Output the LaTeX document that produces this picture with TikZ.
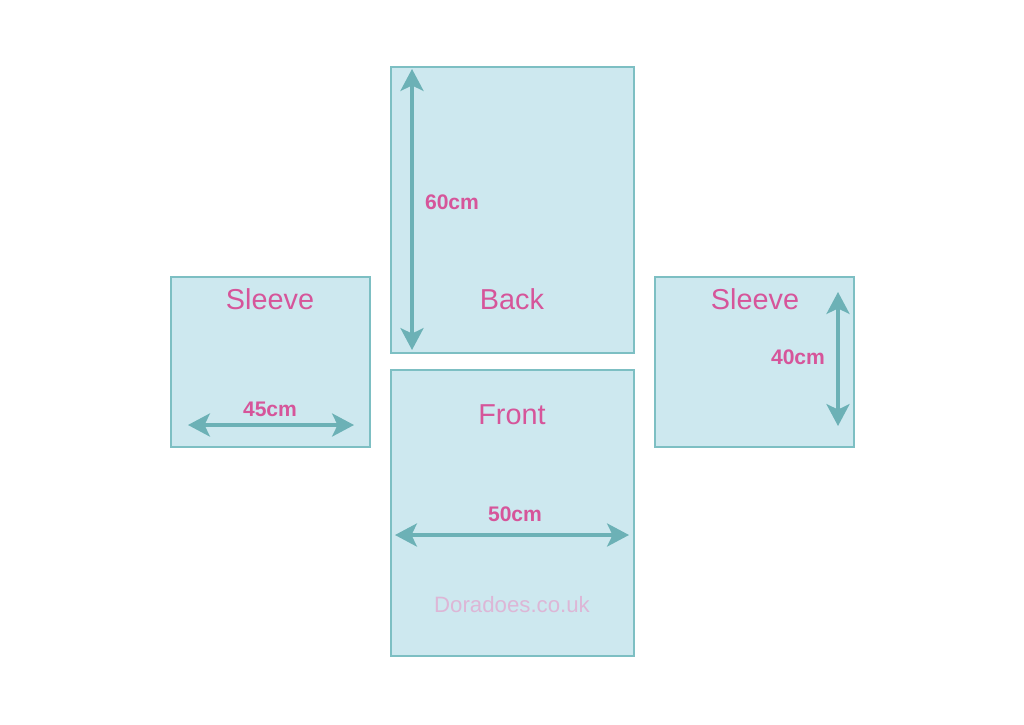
\documentclass[tikz,border=0pt]{standalone}
\usepackage{fontspec}
\setmainfont{Liberation Sans}
\usetikzlibrary{arrows.meta}
\definecolor{panelfill}{HTML}{CDE8EF}
\definecolor{paneledge}{HTML}{7DBFC3}
\definecolor{dimcol}{HTML}{6CB1B6}
\definecolor{labelpink}{HTML}{D6559A}
\definecolor{markpink}{HTML}{DDB6D6}
\begin{document}
\begin{tikzpicture}[x=0.025cm, y=-0.025cm,
    panel/.style={draw=paneledge, fill=panelfill, line width=1.4pt, inner sep=0pt},
    dim/.style={dimcol, line width=2.2pt, {Stealth[length=0.55cm, width=0.58cm, inset=0.14cm]}-{Stealth[length=0.55cm, width=0.58cm, inset=0.14cm]}},
    piece/.style={labelpink, font=\fontsize{20.5}{24}\selectfont},
    size/.style={labelpink, font=\fontsize{15}{17}\selectfont\bfseries}]
    \useasboundingbox (0,0) rectangle (1024,724);

    % Panels
    \node[panel, minimum width=6.075cm, minimum height=7.15cm] (back) at (512.5,210) {};
    \node[panel, minimum width=6.075cm, minimum height=7.15cm] (front) at (512.5,513) {};
    \node[panel, minimum width=4.975cm, minimum height=4.25cm] (lsleeve) at (270.5,362) {};
    \node[panel, minimum width=4.975cm, minimum height=4.25cm] (rsleeve) at (754.5,362) {};

    % Back
    \node[piece] (backlbl) at (512,299) {Back};
    \coordinate (b1) at (412,69);
    \coordinate (b2) at (412,350);
    \draw[dim] (b1) -- (b2);
    \node[size] (backdim) at (452,202) {60cm};

    % Front
    \node[piece] (frontlbl) at (512,415) {Front};
    \coordinate (f1) at (395,535);
    \coordinate (f2) at (629,535);
    \draw[dim] (f1) -- (f2);
    \node[size] (frontdim) at (515,514) {50cm};
    \node[markpink, font=\fontsize{15.8}{18}\selectfont] (mark) at (512,605) {Doradoes.co.uk};

    % Left sleeve
    \node[piece] (llbl) at (270,299) {Sleeve};
    \coordinate (l1) at (188,425);
    \coordinate (l2) at (354,425);
    \draw[dim] (l1) -- (l2);
    \node[size] (ldim) at (270,409) {45cm};

    % Right sleeve
    \node[piece] (rlbl) at (755,299) {Sleeve};
    \coordinate (r1) at (838,292);
    \coordinate (r2) at (838,426);
    \draw[dim] (r1) -- (r2);
    \node[size] (rdim) at (798,357) {40cm};
\end{tikzpicture}
\end{document}
